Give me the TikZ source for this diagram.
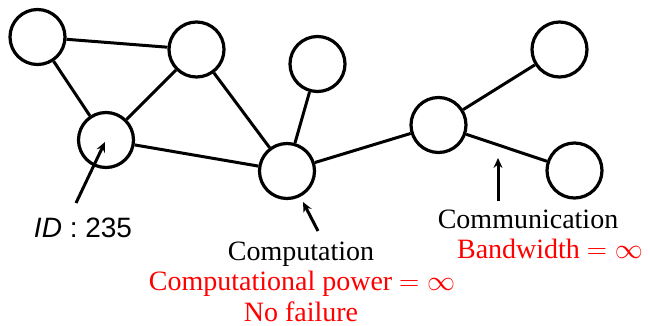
\documentclass[tikz,border=0pt]{standalone}
\usepackage{fix-cm}
\usepackage{fontspec}
\setmainfont{Liberation Serif}
\newfontfamily\labelsans{Liberation Sans}
\usetikzlibrary{arrows.meta}
\begin{document}
\begin{tikzpicture}[x=1pt,y=-1pt,
  vertex/.style={circle,draw,line width=3.2pt,minimum size=55pt,inner sep=0pt},
  edge/.style={line width=3pt},
  pointer/.style={line width=3pt,-{Stealth[length=10pt,width=9pt,inset=3.5pt]}},
  caption/.style={anchor=base,inner sep=0pt,font=\fontsize{28}{32}\selectfont},
  note/.style={caption,text=red}]
\useasboundingbox (0,0) rectangle (650,326);
% vertices
\node[vertex] (a) at (37.5,37) {};
\node[vertex] (b) at (196.5,49.5) {};
\node[vertex] (c) at (106,140) {};
\node[vertex] (d) at (317.5,64) {};
\node[vertex] (e) at (287,171) {};
\node[vertex] (f) at (438.5,125) {};
\node[vertex] (g) at (559.5,49.5) {};
\node[vertex] (h) at (574.5,170.5) {};
% links
\draw[edge] (a) -- (b);
\draw[edge] (a) -- (c);
\draw[edge] (b) -- (c);
\draw[edge] (b) -- (e);
\draw[edge] (c) -- (e);
\draw[edge] (d) -- (e);
\draw[edge] (e) -- (f);
\draw[edge] (f) -- (g);
\draw[edge] (f) -- (h);
% labels
\node[caption,font=\labelsans\fontsize{28}{32}\selectfont] (id) at (83,237) {\textit{ID} : 235};
\node[caption] (comp) at (301,260) {Computation};
\node[note] (power) at (302,290) {Computational power $=\infty$};
\node[note] (fail) at (301,321) {No failure};
\node[caption] (comm) at (528,228) {Communication};
\node[note] (bw) at (550,258) {Bandwidth $=\infty$};
% pointers
\coordinate (idtail) at (76,203);
\coordinate (idtip) at (105,142);
\coordinate (comptail) at (318,231);
\coordinate (comptip) at (303,202);
\coordinate (commtail) at (498,201);
\coordinate (commtip) at (498,158);
\draw[pointer] (idtail) -- (idtip);
\draw[pointer] (comptail) -- (comptip);
\draw[pointer] (commtail) -- (commtip);
\end{tikzpicture}
\end{document}
